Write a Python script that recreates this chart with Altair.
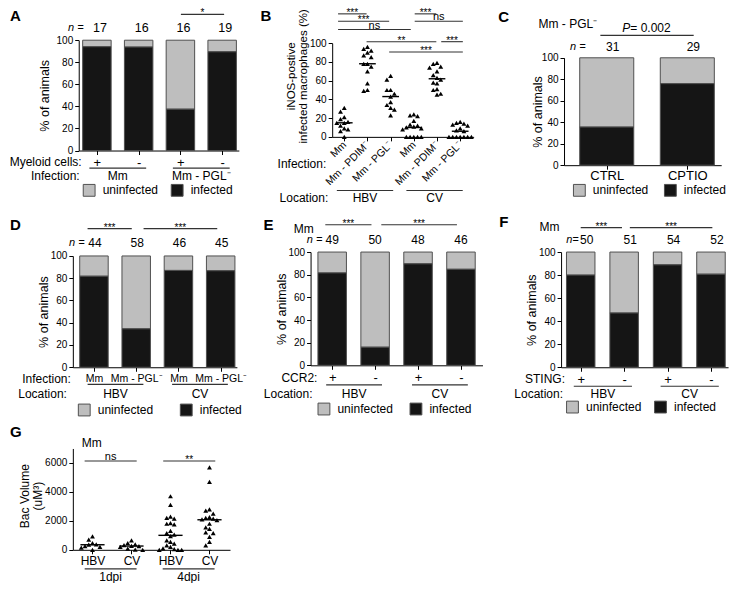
import json
import altair as alt
import pandas as pd

FONT = "Liberation Sans"
W, H = 724, 575
SX, SY = 724 / 737.0, 575 / 589.0      # fit the reference layout into the chart box
GRAY, BLACK, EDGE, LINE = "#bebebe", "#151515", "#505050", "#333333"
STATUS = ["uninfected", "infected"]

# ---------------- data ----------------
A_myeloid = ["+", "-", "+", "-"]
A_infection = ["Mm", "Mm", "Mm - PGL⁻", "Mm - PGL⁻"]
A_infected = [94.1, 93.8, 37.5, 89.5]
A_n = [17, 16, 16, 19]
A_sig = ["*"]

B_infection = ["Mm", "Mm - PDIM⁻", "Mm - PGL⁻", "Mm", "Mm - PDIM⁻", "Mm - PGL⁻"]
B_location = ["HBV", "HBV", "HBV", "CV", "CV", "CV"]
B_title = ["iNOS-postive", "infected macrophages (%)"]
B_hbv_mm = [31, 27, 21, 19, 16, 15, 15, 12, 9, 8, 6, 0]
B_hbv_pdim = [96, 94, 92, 90, 87, 85, 78, 78, 75, 70, 57, 50, 49]
B_hbv_pgl = [65, 61, 50, 50, 46, 43, 37, 34, 31, 29, 23]
B_cv_mm = [24, 23, 22, 17, 13, 12, 11, 10, 9, 8, 0, 0, 0, 0, 0]
B_cv_pdim = [79, 78, 75, 74, 70, 66, 63, 61, 58, 57, 51, 50, 46, 45]
B_cv_pgl = [16, 15, 14, 13, 12, 9, 7, 6, 0, 0, 0, 0, 0, 0, 0]
B_sig = ["***", "***", "ns", "**", "***", "***", "ns", "***"]

C_treatment = ["CTRL", "CPTIO"]
C_strain = "Mm - PGL⁻"
C_infected = [35.5, 75.9]
C_n = [31, 29]
C_p = "= 0.002"

D_infection = ["Mm", "Mm - PGL⁻", "Mm", "Mm - PGL⁻"]
D_location = ["HBV", "HBV", "CV", "CV"]
D_infected = [81.8, 34.5, 87.0, 86.7]
D_n = [44, 58, 46, 45]
D_sig = ["***", "***"]

E_ccr2 = ["+", "-", "+", "-"]
E_location = ["HBV", "HBV", "CV", "CV"]
E_infected = [81.6, 16.0, 89.6, 84.8]
E_n = [49, 50, 48, 46]
E_sig = ["***", "***"]

F_sting = ["+", "-", "+", "-"]
F_location = ["HBV", "HBV", "CV", "CV"]
F_infected = [80.0, 47.1, 88.9, 80.8]
F_n = [50, 51, 54, 52]
F_sig = ["***", "***"]

G_site = ["HBV", "CV", "HBV", "CV"]
G_time = ["1dpi", "1dpi", "4dpi", "4dpi"]
G_title = ["Bac Volume", "(uM³)"]
G_hbv_1 = [920, 700, 470, 380, 350, 250, 200, 150, 0]
G_cv_1 = [650, 470, 380, 320, 270, 250, 200, 90, 20, 0]
G_hbv_4 = [3700, 3100, 2300, 2200, 2150, 1850, 1800, 1750, 1300, 1150, 1050,
           950, 650, 540, 430, 300, 200, 100, 50, 0, 0, 0]
G_cv_4 = [5700, 4700, 2800, 2700, 2500, 2250, 2200, 2150, 2100, 2050, 1800,
          1550, 1450, 1200, 1150, 900, 550, 300]
G_sig = ["ns", "**"]


# ---------------- helpers ----------------
def cx(x):
    return (x - 2) * SX


def cy(y):
    return (y - 3) * SY


class Panel:
    def __init__(self, c0, step, xl, xr, y0, ytop, vmax=100.0):
        self.c0, self.step, self.xl, self.xr = c0, step, xl, xr
        self.y0, self.ytop, self.vmax = y0, ytop, vmax

    def X(self, px):
        return (px - self.c0) / self.step

    def Y(self, py):
        return (self.y0 - py) / (self.y0 - self.ytop) * self.vmax

    def xscale(self):
        return alt.Scale(domain=[self.X(self.xl), self.X(self.xr)],
                         range=[cx(self.xl), cx(self.xr)], nice=False, zero=False)

    def yscale(self):
        return alt.Scale(domain=[0, self.vmax], range=[cy(self.y0), cy(self.ytop)],
                         nice=False, zero=False)


def text_layer(P, xs, ys, labels, size=12, align="center", style=None,
               weight=None, dx=0, angle=None):
    df = pd.DataFrame({"x": xs, "y": ys, "t": labels})
    mk = dict(font=FONT, fontSize=size, align=align, baseline="middle", color="black")
    if style:
        mk["fontStyle"] = style
    if weight:
        mk["fontWeight"] = weight
    if dx:
        mk["dx"] = dx
    if angle is not None:
        mk["angle"] = angle
    return alt.Chart(df).mark_text(**mk).encode(
        x=alt.X("x:Q", scale=P.xscale(), axis=None),
        y=alt.Y("y:Q", scale=P.yscale(), axis=None),
        text="t:N")


def rule_layer(P, x1, x2, ys, color=LINE, width=1.1):
    df = pd.DataFrame({"x": x1, "x2": x2, "y": ys})
    return alt.Chart(df).mark_rule(color=color, strokeWidth=width).encode(
        x=alt.X("x:Q", scale=P.xscale(), axis=None), x2="x2:Q",
        y=alt.Y("y:Q", scale=P.yscale(), axis=None))


def groups(labels):
    out = []
    for i, g in enumerate(labels):
        if out and out[-1][0] == g:
            out[-1][2] = i
        else:
            out.append([g, i, i])
    return out


def group_layers(P, labels, line_y, text_y, ext_l, ext_r, size=12):
    gs = groups(labels)
    x1 = [g[1] - ext_l for g in gs]
    x2 = [g[2] + ext_r for g in gs]
    mids = [(a + b) / 2 for a, b in zip(x1, x2)]
    return [rule_layer(P, x1, x2, [P.Y(line_y)] * len(gs)),
            text_layer(P, mids, [P.Y(text_y)] * len(gs), [g[0] for g in gs], size=size)]


def sig_layers(P, labels, spans, line_ys):
    xs1 = [P.X(a) for a, b in spans]
    xs2 = [P.X(b) for a, b in spans]
    layers = [rule_layer(P, xs1, xs2, [P.Y(y) for y in line_ys])]
    mids = [(a + b) / 2 for a, b in zip(xs1, xs2)]
    ty = [P.Y(y - (4 if lab == "ns" else 1)) for lab, y in zip(labels, line_ys)]
    sizes = [11 if lab == "ns" else 10 for lab in labels]
    for s in sorted(set(sizes)):
        idx = [i for i, v in enumerate(sizes) if v == s]
        layers.append(text_layer(P, [mids[i] for i in idx], [ty[i] for i in idx],
                                 [labels[i] for i in idx], size=s))
    return layers


def vtitle_layer(P, lines, xs_px, yc_px, size=12):
    """rotated (two-line) axis title written as real text"""
    return text_layer(P, [P.X(x) for x in xs_px], [P.Y(yc_px)] * len(lines), lines,
                      size=size, angle=270)


def left_axis(P, values, title, tx, ty, size=12.5, fmt="d"):
    kw = dict(orient="left", offset=-cx(P.xl), values=values, format=fmt,
              labelFontSize=10, labelOverlap=False)
    if title:
        kw.update(title=title, titleX=cx(tx) - cx(P.xl), titleY=cy(ty), titleAngle=270,
                  titleAlign="center", titleBaseline="middle", titleFontSize=size)
    else:
        kw["title"] = None
    return alt.Axis(**kw)


def bottom_axis(P, labels, size=12, **kw):
    return alt.Axis(orient="bottom", offset=cy(P.y0) - H,
                    values=list(range(len(labels))),
                    labelExpr=json.dumps(labels, ensure_ascii=False) + "[datum.value]",
                    title=None, labelFontSize=size, labelFlush=False,
                    labelOverlap=False, **kw)


def legend(x_px, yc_px, gap):
    return alt.Legend(orient="none", legendX=cx(x_px), legendY=cy(yc_px) - 7,
                      direction="horizontal", title=None, symbolType="square",
                      symbolSize=140, symbolStrokeColor=EDGE, symbolStrokeWidth=1,
                      labelFontSize=12, labelFont=FONT, labelColor="black",
                      labelOffset=7, columnPadding=gap)


def bar_layer(P, infected, hw_px, xaxis, yaxis, leg):
    hw = hw_px / P.step
    rows = []
    for i, v in enumerate(infected):
        rows.append({"x0": i - hw, "x1": i + hw, "lo": v, "hi": 100, "status": "uninfected"})
        rows.append({"x0": i - hw, "x1": i + hw, "lo": 0, "hi": v, "status": "infected"})
    return alt.Chart(pd.DataFrame(rows)).mark_bar(stroke=EDGE, strokeWidth=1).encode(
        x=alt.X("x0:Q", scale=P.xscale(), axis=xaxis), x2="x1:Q",
        y=alt.Y("lo:Q", scale=P.yscale(), axis=yaxis), y2="hi:Q",
        color=alt.Color("status:N", scale=alt.Scale(domain=STATUS, range=[GRAY, BLACK]),
                        legend=leg))


def swarm(vals, px_per_unit, rx=3.8, ry=5.0):
    """deterministic side-by-side placement of points that would overlap"""
    placed, res = [], [0.0] * len(vals)
    cands = [0.0]
    for k in range(1, 12):
        cands += [-k * rx, k * rx]
    for i in sorted(range(len(vals)), key=lambda j: -vals[j]):
        y = vals[i] * px_per_unit
        for c in cands:
            if all(((c - px) / rx) ** 2 + ((y - py) / ry) ** 2 >= 0.999 for px, py in placed):
                placed.append((c, y))
                res[i] = c
                break
    return res


def strip_layers(P, series, hw_med, xaxis, yaxis):
    ppu = (P.y0 - P.ytop) / P.vmax
    rows, meds = [], []
    for i, vals in enumerate(series):
        offs = swarm(vals, ppu)
        for v, o in zip(vals, offs):
            rows.append({"x": i + o / P.step, "v": v})
        meds.append({"x": i - hw_med, "x2": i + hw_med, "m": float(pd.Series(vals).median())})
    pts = alt.Chart(pd.DataFrame(rows)).mark_point(
        shape="triangle-up", filled=True, size=24, color="black", opacity=1).encode(
        x=alt.X("x:Q", scale=P.xscale(), axis=xaxis),
        y=alt.Y("v:Q", scale=P.yscale(), axis=None))
    # the median layer carries the value axis
    med = alt.Chart(pd.DataFrame(meds)).mark_rule(color="black", strokeWidth=1.4).encode(
        x=alt.X("x:Q", scale=P.xscale(), axis=None), x2="x2:Q",
        y=alt.Y("m:Q", scale=P.yscale(), axis=yaxis))
    return [pts, med]


PCT = [0, 20, 40, 60, 80, 100]
LET = 15

# ---------------- panel A ----------------
PA = Panel(92.5, 42.5, 74, 237, 149, 36)
A_layers = [
    bar_layer(PA, A_infected, 14.5, bottom_axis(PA, A_myeloid, 13),
              left_axis(PA, PCT, "% of animals", 39, 92.5), legend(78, 190, 10)),
    text_layer(PA, [PA.X(4)], [PA.Y(11.5)], ["A"], size=LET, align="left", weight="bold"),
    text_layer(PA, [PA.X(79)], [PA.Y(23)], ["n ="], size=11, align="right", style="italic"),
    text_layer(PA, list(range(len(A_n))), [PA.Y(23)] * len(A_n), [str(v) for v in A_n],
               size=12.5, dx=3),
    text_layer(PA, [PA.X(77)], [PA.Y(161)], ["Myeloid cells:"], align="right"),
    text_layer(PA, [PA.X(75)], [PA.Y(175)], ["Infection:"], align="right"),
] + sig_layers(PA, A_sig, [(178, 222)], [9.5]) \
  + group_layers(PA, A_infection, 167, 175.5, 0.18, 0.18)

# ---------------- panel B ----------------
PB = Panel(344.3, 23.6, 332, 476, 135, 39)
B_series = [B_hbv_mm, B_hbv_pdim, B_hbv_pgl, B_cv_mm, B_cv_pdim, B_cv_pgl]
B_layers = strip_layers(
    PB, B_series, 0.36,
    bottom_axis(PB, B_infection, 10.5, labelAngle=315, labelAlign="right",
                labelBaseline="middle"),
    left_axis(PB, PCT, None, 0, 0)) + [
    vtitle_layer(PB, B_title, [291, 303], 73, size=11.5),
    text_layer(PB, [PB.X(259)], [PB.Y(11.5)], ["B"], size=LET, align="left", weight="bold"),
    text_layer(PB, [PB.X(326)], [PB.Y(163)], ["Infection:"], align="right"),
    text_layer(PB, [PB.X(328)], [PB.Y(198)], ["Location:"], align="right"),
] + sig_layers(PB, B_sig,
               [(338, 367), (338, 390), (338, 412), (367, 438), (390, 465),
                (416, 438), (416, 465), (443, 465)],
               [9, 16.5, 25, 37.5, 48, 9, 16.5, 37.5]) \
  + group_layers(PB, B_location, 190, 198, 0.32, 0.11)

# ---------------- panel C ----------------
PC = Panel(611.5, 82, 568, 728, 164, 54)
C_layers = [
    bar_layer(PC, C_infected, 27.5, bottom_axis(PC, C_treatment, 13, labelPadding=0),
              left_axis(PC, PCT, "% of animals", 541, 109), legend(577, 190, 13)),
    text_layer(PC, [PC.X(501)], [PC.Y(12.5)], ["C"], size=LET, align="left", weight="bold"),
    text_layer(PC, [PC.X(542)], [PC.Y(19)], [C_strain], align="left"),
    text_layer(PC, [PC.X(635.5)], [PC.Y(23)], ["P"], align="right", style="italic"),
    text_layer(PC, [PC.X(635.5)], [PC.Y(23)], [C_p], align="left"),
    rule_layer(PC, [PC.X(605)], [PC.X(700)], [PC.Y(31)]),
    text_layer(PC, [PC.X(590)], [PC.Y(43)], ["n ="], size=11, align="right", style="italic"),
    text_layer(PC, list(range(len(C_n))), [PC.Y(43)] * len(C_n), [str(v) for v in C_n], dx=6),
]

# ---------------- panel D ----------------
PD = Panel(89.5, 43, 68, 235, 371, 257)
D_layers = [
    bar_layer(PD, D_infected, 14.5, bottom_axis(PD, D_infection, 10.5),
              left_axis(PD, PCT, "% of animals", 38, 314), legend(73, 415, 24)),
    text_layer(PD, [PD.X(4)], [PD.Y(225)], ["D"], size=LET, align="left", weight="bold"),
    text_layer(PD, [PD.X(80)], [PD.Y(244)], ["n ="], size=11, align="right", style="italic"),
    text_layer(PD, list(range(len(D_n))), [PD.Y(244)] * len(D_n), [str(v) for v in D_n], dx=1),
    text_layer(PD, [PD.X(66)], [PD.Y(383)], ["Infection:"], align="right"),
    text_layer(PD, [PD.X(62)], [PD.Y(398)], ["Location:"], align="right"),
] + sig_layers(PD, D_sig, [(83, 128), (140, 215)], [229, 229]) \
  + group_layers(PD, D_location, 388.5, 398, 0.15, 0.17)

# ---------------- panel E ----------------
PE = Panel(332, 43.7, 310, 485, 369, 253)
E_layers = [
    bar_layer(PE, E_infected, 14.5, bottom_axis(PE, E_ccr2, 13),
              left_axis(PE, PCT, "% of animals", 280, 311), legend(317, 414, 14)),
    text_layer(PE, [PE.X(262)], [PE.Y(225)], ["E"], size=LET, align="left", weight="bold"),
    text_layer(PE, [PE.X(293)], [PE.Y(229)], ["Mm"], align="left"),
    text_layer(PE, [PE.X(322)], [PE.Y(241)], ["n ="], size=11, align="right", style="italic"),
    text_layer(PE, list(range(len(E_n))), [PE.Y(241)] * len(E_n), [str(v) for v in E_n]),
    text_layer(PE, [PE.X(317)], [PE.Y(382)], ["CCR2:"], align="right"),
    text_layer(PE, [PE.X(312)], [PE.Y(398)], ["Location:"], align="right"),
] + sig_layers(PE, E_sig, [(325, 372), (382, 459)], [225, 225]) \
  + group_layers(PE, E_location, 389, 398, 0.14, 0.16)

# ---------------- panel F ----------------
PF = Panel(585, 44.2, 565, 735, 371, 253)
F_layers = [
    bar_layer(PF, F_infected, 14.5, bottom_axis(PF, F_sting, 13),
              left_axis(PF, PCT, "% of animals", 535, 312), legend(570, 412, 10)),
    text_layer(PF, [PF.X(502)], [PF.Y(222)], ["F"], size=LET, align="left", weight="bold"),
    text_layer(PF, [PF.X(543)], [PF.Y(227)], ["Mm"], align="left"),
    text_layer(PF, [PF.X(583)], [PF.Y(241)], ["n="], size=11, align="right", style="italic"),
    text_layer(PF, list(range(len(F_n))), [PF.Y(241)] * len(F_n), [str(v) for v in F_n], dx=6),
    text_layer(PF, [PF.X(569)], [PF.Y(383)], ["STING:"], align="right"),
    text_layer(PF, [PF.X(567)], [PF.Y(398)], ["Location:"], align="right"),
] + sig_layers(PF, F_sig, [(585, 627), (635, 719)], [228, 228]) \
  + group_layers(PF, F_location, 390.5, 398, 0.16, 0.18)

# ---------------- panel G ----------------
PG = Panel(88, 39.7, 68, 228, 558, 454.2, vmax=7000)
G_series = [G_hbv_1, G_cv_1, G_hbv_4, G_cv_4]
G_layers = strip_layers(
    PG, G_series, 0.31,
    bottom_axis(PG, G_site, 12),
    left_axis(PG, [0, 2000, 4000, 6000], None, 0, 0)) + [
    vtitle_layer(PG, G_title, [19, 33], 503, size=12),
    text_layer(PG, [PG.X(4)], [PG.Y(437)], ["G"], size=LET, align="left", weight="bold"),
    text_layer(PG, [PG.X(77)], [PG.Y(449)], ["Mm"], align="left"),
] + sig_layers(PG, G_sig, [(80, 133), (160, 213)], [467, 467]) \
  + group_layers(PG, G_time, 577.5, 586, 0.2, 0.13)

all_layers = A_layers + B_layers + C_layers + D_layers + E_layers + F_layers + G_layers

chart = alt.layer(*all_layers).resolve_scale(
    x="independent", y="independent", color="independent"
).resolve_legend(color="independent").properties(
    width=W, height=H, padding=0, autosize=alt.AutoSizeParams(type="none")
).configure_view(stroke=None).configure_axis(
    grid=False, domainColor="black", tickColor="black", labelColor="black",
    titleColor="black", labelFont=FONT, titleFont=FONT, titleFontWeight="normal",
    tickSize=4, labelPadding=2, domainWidth=1, tickWidth=1
).configure_legend(labelFont=FONT)

chart.save("out.html", embed_options={"renderer": "svg", "actions": False})
